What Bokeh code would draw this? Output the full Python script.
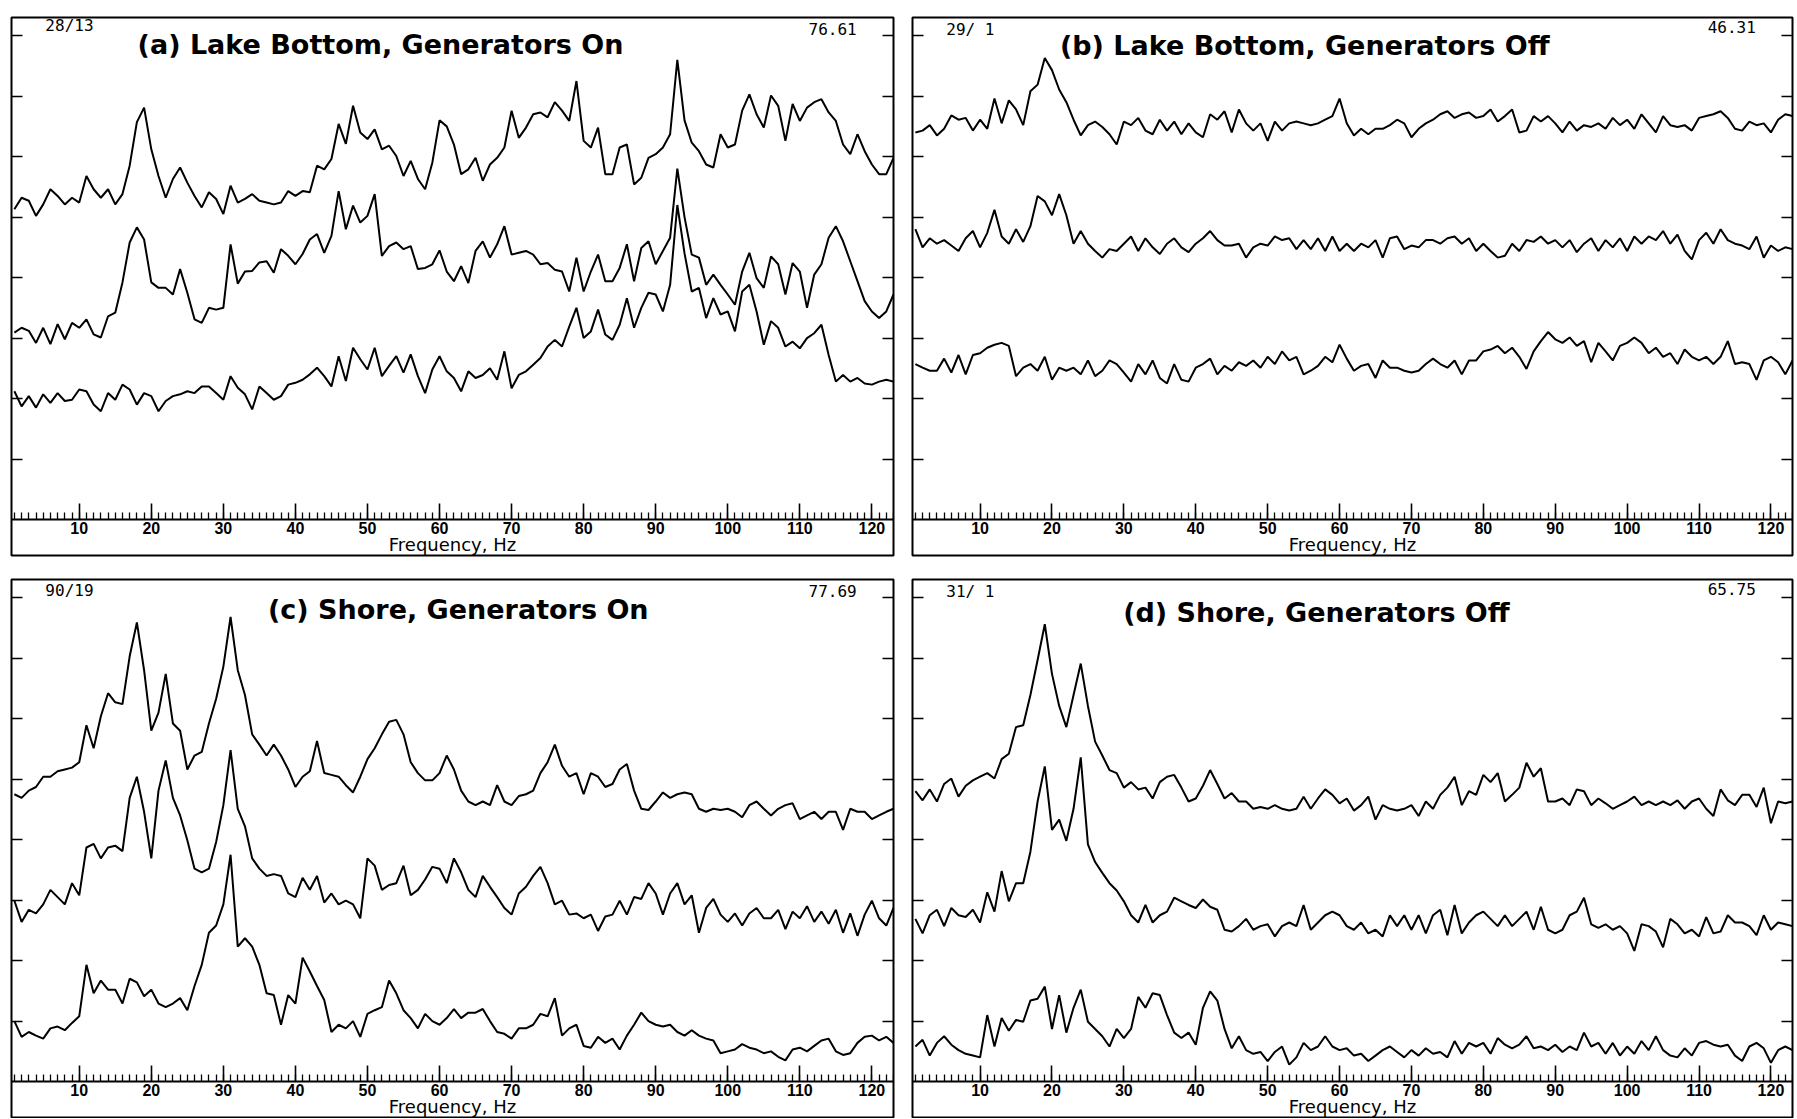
from bokeh.plotting import figure
from bokeh.models import Range1d, LinearAxis, FixedTicker, Label
from bokeh.layouts import row, column
from bokeh.embed import file_html
from bokeh.resources import INLINE

# ---------------- data (frequency in Hz, level in dB) -------------
freq = list(range(1, 124))
x_major = [10, 20, 30, 40, 50, 60, 70, 80, 90, 100, 110, 120]
x_minor = list(range(1, 124))
y_major = [10, 20, 30, 40, 50, 60, 70, 80]

titles = ["(a) Lake Bottom, Generators On", "(b) Lake Bottom, Generators Off",
          "(c) Shore, Generators On", "(d) Shore, Generators Off"]
left_notes = ["28/13", "29/ 1", "90/19", "31/ 1"]
right_notes = ["76.61", "46.31", "77.69", "65.75"]

lake_on_1 = [51.3, 53.2, 52.7, 50.2, 52.1, 54.6, 53.5, 52.1, 53.2, 52.4,
             56.8, 54.6, 53.2, 54.6, 52.1, 53.8, 58.5, 65.7, 68.1, 61.2,
             56.8, 53.2, 56.3, 58.2, 55.7, 53.5, 51.6, 54.1, 53.0, 50.5,
             55.2, 52.4, 53.0, 53.8, 52.7, 52.4, 52.1, 52.4, 54.3, 53.5,
             54.3, 54.1, 58.5, 57.9, 59.6, 65.4, 62.1, 68.4, 64.0, 62.9,
             64.5, 61.2, 61.8, 60.1, 56.8, 59.3, 56.3, 54.6, 59.0, 66.0,
             65.0, 62.0, 57.1, 57.9, 59.8, 56.0, 58.7, 59.8, 61.5, 67.6,
             63.1, 64.8, 67.0, 67.3, 66.5, 69.0, 67.6, 65.9, 72.5, 62.6,
             61.5, 64.8, 57.1, 57.1, 61.5, 62.0, 55.4, 56.5, 59.8, 60.4,
             61.5, 63.7, 76.0, 66.0, 62.3, 60.9, 58.7, 58.2, 63.7, 61.5,
             62.0, 67.6, 70.3, 67.0, 64.8, 70.1, 68.4, 62.6, 68.7, 65.9,
             68.1, 69.0, 69.5, 67.3, 65.9, 62.0, 60.4, 63.7, 60.9, 58.7,
             57.1, 57.1, 59.8]
lake_on_2 = [30.9, 31.7, 31.2, 29.2, 31.7, 29.0, 32.3, 29.8, 32.5, 31.7,
             33.1, 30.6, 30.1, 33.6, 34.2, 39.2, 45.8, 48.3, 46.3, 39.2,
             38.3, 38.3, 37.2, 41.4, 37.5, 33.1, 32.5, 35.0, 34.7, 35.0,
             45.5, 39.0, 41.0, 41.1, 42.5, 42.7, 40.8, 44.7, 43.6, 42.2,
             43.9, 46.3, 47.2, 44.1, 46.9, 54.3, 48.0, 51.9, 49.1, 50.2,
             53.8, 43.6, 45.2, 45.8, 44.7, 45.2, 41.4, 41.6, 42.2, 44.5,
             41.0, 39.4, 41.9, 39.1, 44.4, 46.0, 43.3, 45.5, 48.5, 43.8,
             44.1, 44.4, 43.8, 42.2, 42.4, 41.3, 41.0, 37.7, 43.3, 37.7,
             41.0, 43.8, 39.4, 39.4, 41.6, 45.5, 39.4, 44.9, 46.0, 42.2,
             44.4, 46.6, 58.0, 50.0, 43.8, 43.3, 38.8, 40.5, 38.8, 37.2,
             35.5, 41.0, 44.1, 39.9, 38.3, 43.5, 42.2, 37.2, 42.4, 41.0,
             35.0, 40.5, 42.2, 46.6, 48.5, 46.0, 42.7, 39.4, 36.1, 34.4,
             33.3, 34.4, 37.2]
lake_on_3 = [21.2, 18.7, 20.4, 18.5, 20.7, 19.3, 20.9, 19.6, 19.8, 21.5,
             21.2, 19.0, 17.9, 20.9, 19.8, 22.3, 21.5, 19.0, 20.9, 20.4,
             17.9, 19.6, 20.4, 20.7, 21.2, 20.9, 22.0, 22.0, 20.9, 19.8,
             23.7, 21.8, 20.7, 18.2, 22.0, 20.9, 19.8, 20.4, 22.3, 22.6,
             23.1, 24.0, 25.1, 23.7, 22.0, 27.0, 22.9, 28.4, 26.5, 24.8,
             28.4, 23.7, 25.4, 27.0, 24.3, 27.3, 23.7, 20.9, 24.8, 27.0,
             24.5, 23.4, 21.2, 24.5, 23.4, 23.9, 25.0, 23.1, 27.8, 21.7,
             23.9, 24.5, 25.6, 26.7, 28.6, 29.7, 28.6, 31.9, 35.0, 30.0,
             31.1, 34.7, 30.6, 29.7, 32.2, 36.6, 31.7, 35.0, 37.5, 37.2,
             34.4, 38.8, 52.0, 44.0, 37.7, 38.3, 33.3, 36.6, 33.9, 34.4,
             31.1, 37.7, 38.8, 34.4, 28.9, 32.8, 31.7, 28.6, 29.4, 28.3,
             30.0, 30.8, 32.2, 27.2, 22.8, 23.9, 22.8, 23.4, 22.5, 22.3,
             22.8, 23.1, 22.8]

lake_off_1 = [64.0, 64.3, 65.2, 63.5, 64.6, 66.8, 66.1, 66.4, 64.3, 66.1,
              64.6, 69.6, 65.5, 69.3, 67.8, 65.2, 70.8, 71.9, 76.3, 74.3,
              71.1, 69.0, 66.1, 63.5, 65.2, 65.8, 64.9, 63.7, 62.0, 65.8,
              65.2, 66.4, 64.3, 63.7, 66.1, 64.3, 65.8, 63.7, 65.5, 64.0,
              63.2, 67.0, 66.1, 67.5, 64.0, 67.8, 65.5, 64.3, 65.5, 62.6,
              65.8, 64.3, 65.5, 65.8, 65.5, 65.2, 65.5, 66.1, 66.7, 69.6,
              65.5, 63.5, 64.6, 63.7, 64.6, 64.6, 65.2, 66.1, 65.5, 63.2,
              64.6, 65.5, 66.1, 67.0, 67.5, 66.4, 67.0, 67.3, 66.4, 66.7,
              67.8, 65.8, 66.7, 67.8, 64.0, 64.3, 66.7, 65.8, 66.7, 65.5,
              64.0, 65.8, 64.3, 65.2, 64.9, 65.5, 64.6, 66.4, 65.2, 66.1,
              64.6, 67.0, 65.5, 64.0, 66.7, 65.2, 64.9, 65.2, 64.3, 66.4,
              66.7, 67.0, 67.5, 66.4, 64.6, 64.3, 65.8, 65.2, 65.5, 64.0,
              66.1, 67.0, 66.7]
lake_off_2 = [48.0, 45.0, 46.5, 45.6, 46.2, 45.3, 44.4, 46.5, 47.7, 45.0,
              47.4, 51.2, 46.8, 45.6, 48.0, 45.9, 48.5, 53.5, 52.6, 50.3,
              53.8, 50.3, 45.6, 47.7, 45.6, 44.4, 43.3, 44.7, 44.4, 45.6,
              46.8, 44.4, 46.5, 45.0, 43.9, 45.6, 46.5, 45.0, 44.2, 45.6,
              46.5, 47.7, 46.2, 45.3, 45.3, 45.6, 43.3, 45.0, 45.6, 45.3,
              46.8, 46.2, 46.5, 44.7, 46.2, 44.7, 46.5, 44.4, 46.8, 44.4,
              45.6, 44.4, 45.6, 45.0, 46.2, 43.3, 46.5, 46.8, 44.7, 45.3,
              45.0, 46.2, 46.2, 45.6, 46.5, 46.8, 45.6, 46.5, 44.4, 45.6,
              44.4, 43.3, 43.6, 45.6, 44.4, 46.2, 45.9, 46.8, 45.6, 46.2,
              45.0, 46.2, 44.2, 45.6, 46.5, 44.4, 46.2, 45.0, 46.5, 44.4,
              46.8, 45.6, 46.8, 46.2, 47.7, 45.6, 47.1, 44.4, 43.0, 46.2,
              47.4, 45.6, 48.0, 46.2, 45.6, 45.3, 44.7, 46.8, 43.3, 45.3,
              44.4, 45.0, 44.7]
lake_off_3 = [25.7, 25.1, 24.6, 24.6, 26.6, 24.3, 27.2, 24.0, 27.2, 27.5,
              28.4, 28.9, 29.2, 28.7, 23.7, 25.1, 25.7, 24.6, 26.9, 23.1,
              25.1, 24.6, 25.1, 24.0, 26.3, 23.7, 24.6, 26.3, 25.7, 24.3,
              22.8, 25.7, 24.0, 26.3, 23.4, 22.5, 25.7, 23.1, 22.8, 25.1,
              25.7, 26.6, 24.0, 25.4, 24.6, 26.0, 25.4, 26.3, 25.1, 26.9,
              25.7, 27.8, 26.3, 26.9, 24.0, 24.6, 25.4, 26.9, 26.0, 28.9,
              26.6, 24.6, 25.4, 25.7, 23.4, 26.3, 25.1, 25.1, 24.6, 24.3,
              24.6, 25.7, 26.6, 25.7, 25.1, 26.3, 24.0, 26.3, 26.3, 27.8,
              28.1, 28.7, 27.5, 28.4, 26.9, 24.9, 27.8, 29.5, 31.0, 29.8,
              29.2, 30.1, 28.7, 29.5, 26.0, 29.2, 27.8, 26.3, 28.7, 29.2,
              30.1, 29.2, 27.5, 28.4, 26.9, 27.5, 25.7, 28.1, 26.9, 26.3,
              26.9, 25.7, 26.9, 29.5, 25.7, 26.0, 25.7, 23.1, 26.3, 26.9,
              26.0, 24.0, 26.3]

shore_on_1 = [47.5, 46.9, 48.1, 48.7, 50.4, 50.4, 51.3, 51.6, 51.9, 52.8,
              58.9, 55.1, 60.4, 64.2, 62.7, 62.4, 70.3, 75.9, 68.0, 58.0,
              61.0, 67.4, 59.2, 58.0, 51.6, 53.9, 54.5, 59.2, 63.3, 68.6,
              76.8, 68.0, 63.9, 57.4, 55.7, 53.9, 55.7, 53.9, 51.6, 48.7,
              50.4, 51.3, 56.3, 51.0, 50.7, 50.4, 49.0, 47.8, 50.4, 53.3,
              55.1, 57.4, 59.5, 59.8, 57.4, 52.8, 51.0, 49.8, 49.8, 51.0,
              53.9, 51.6, 48.1, 46.3, 45.7, 46.3, 45.7, 49.0, 46.3, 45.7,
              47.2, 47.5, 48.1, 51.0, 52.8, 55.7, 52.2, 50.4, 51.0, 47.5,
              51.0, 50.4, 48.7, 49.2, 51.6, 52.5, 48.1, 45.1, 44.9, 46.3,
              47.8, 46.9, 47.5, 47.8, 47.5, 45.1, 44.6, 45.1, 44.9, 45.1,
              44.6, 43.7, 45.7, 46.3, 45.1, 44.0, 45.1, 45.7, 46.0, 43.4,
              44.0, 44.6, 43.4, 44.6, 44.6, 41.6, 45.1, 44.6, 44.6, 43.4,
              44.0, 44.6, 45.1]
shore_on_2 = [29.9, 26.4, 28.4, 27.8, 29.3, 31.7, 30.5, 29.3, 32.8, 30.8,
              38.7, 39.3, 36.9, 38.7, 39.0, 38.1, 46.9, 50.4, 44.6, 36.9,
              48.1, 53.1, 46.9, 44.0, 39.9, 35.2, 34.6, 35.2, 39.6, 45.7,
              54.8, 45.1, 42.2, 36.9, 35.2, 34.0, 34.3, 34.0, 31.1, 30.5,
              33.7, 31.7, 34.0, 29.6, 31.1, 29.3, 29.9, 29.3, 27.0, 36.9,
              35.7, 31.7, 32.5, 32.8, 35.7, 30.8, 31.7, 33.4, 35.5, 35.2,
              32.8, 36.9, 34.6, 31.7, 30.5, 34.0, 32.2, 30.5, 28.7, 27.6,
              31.1, 32.2, 34.0, 35.5, 32.8, 29.3, 29.9, 27.6, 27.8, 27.0,
              27.6, 24.9, 27.3, 27.6, 29.9, 27.6, 30.5, 30.2, 32.8, 31.1,
              27.6, 31.1, 32.8, 29.3, 30.8, 24.6, 28.7, 30.2, 27.6, 26.4,
              27.8, 25.8, 27.8, 28.7, 27.0, 27.0, 28.4, 25.2, 28.1, 27.0,
              29.0, 26.4, 28.1, 26.1, 28.4, 24.6, 27.8, 24.1, 27.6, 29.9,
              27.0, 25.8, 28.7]
shore_on_3 = [10.0, 7.4, 8.2, 7.6, 7.1, 8.8, 9.1, 8.5, 9.7, 10.8,
              19.3, 14.6, 16.7, 15.2, 15.2, 12.9, 17.0, 16.4, 14.1, 15.2,
              12.9, 12.3, 12.9, 13.8, 11.8, 15.8, 19.3, 24.6, 25.8, 29.3,
              37.5, 22.3, 23.7, 22.3, 19.3, 14.6, 14.3, 9.4, 14.3, 12.9,
              20.5, 18.2, 15.8, 13.5, 8.2, 9.4, 8.8, 10.0, 7.4, 11.2,
              11.8, 12.3, 16.7, 14.6, 11.8, 10.5, 8.8, 11.2, 10.0, 9.4,
              10.5, 12.0, 10.5, 11.4, 11.4, 12.0, 10.0, 8.2, 7.9, 7.1,
              8.8, 8.8, 9.4, 11.2, 10.8, 13.8, 7.6, 8.8, 9.4, 5.9,
              5.6, 7.4, 6.4, 7.1, 5.3, 7.6, 9.4, 11.4, 10.0, 9.4,
              9.1, 9.4, 8.2, 7.6, 8.5, 7.6, 7.1, 6.8, 4.7, 5.0,
              5.3, 6.2, 5.6, 5.3, 4.7, 5.0, 4.1, 3.5, 5.3, 5.6,
              5.0, 5.9, 6.8, 7.1, 5.0, 4.4, 4.7, 6.4, 7.4, 7.6,
              6.8, 7.4, 6.4]

shore_off_1 = [48.0, 46.5, 48.3, 46.3, 49.2, 50.1, 47.1, 48.9, 49.8, 50.4,
               51.0, 50.1, 53.3, 54.2, 58.6, 58.9, 63.9, 69.7, 75.6, 67.4,
               62.1, 58.6, 63.9, 69.1, 62.1, 56.2, 53.9, 51.5, 51.0, 48.6,
               49.5, 48.3, 48.6, 46.8, 49.5, 50.4, 50.7, 48.6, 46.3, 46.8,
               48.9, 51.5, 49.2, 46.8, 47.7, 46.3, 46.3, 45.1, 45.4, 45.1,
               45.7, 45.1, 44.8, 45.1, 47.1, 45.1, 46.8, 48.3, 47.4, 46.0,
               46.8, 44.8, 45.7, 47.1, 43.3, 45.7, 45.1, 44.8, 45.1, 45.7,
               43.9, 46.3, 45.1, 47.4, 48.6, 50.4, 45.7, 48.0, 47.4, 50.7,
               49.5, 51.0, 46.3, 47.4, 48.6, 52.7, 50.4, 51.8, 46.3, 46.3,
               46.8, 45.7, 48.3, 48.0, 45.7, 46.8, 46.0, 45.1, 45.7, 46.3,
               47.1, 45.7, 46.3, 45.7, 46.3, 45.7, 46.5, 45.1, 46.3, 46.8,
               45.1, 43.9, 48.3, 46.5, 45.7, 47.4, 47.4, 45.4, 48.6, 42.7,
               46.3, 46.0, 46.3]
shore_off_2 = [26.9, 24.5, 27.5, 28.4, 25.7, 28.7, 27.5, 27.2, 28.4, 26.3,
               31.3, 28.1, 34.8, 29.8, 32.8, 32.8, 38.0, 46.3, 52.1, 41.6,
               43.3, 39.8, 45.1, 53.6, 39.2, 36.3, 34.5, 32.8, 31.6, 29.8,
               27.5, 26.3, 29.2, 26.3, 27.5, 28.1, 30.4, 29.8, 29.2, 28.7,
               30.1, 28.9, 28.4, 25.1, 24.8, 25.7, 26.9, 25.1, 25.7, 26.0,
               24.0, 25.7, 26.3, 25.7, 29.2, 25.1, 26.3, 27.5, 28.1, 27.5,
               25.7, 25.1, 26.3, 24.5, 25.1, 24.0, 27.5, 25.7, 27.5, 25.1,
               27.5, 24.5, 27.5, 28.4, 24.2, 29.2, 24.5, 26.3, 27.5, 28.1,
               26.9, 25.7, 27.5, 25.7, 26.9, 28.1, 25.1, 28.9, 25.1, 24.5,
               25.1, 27.5, 28.1, 30.4, 26.0, 25.4, 26.0, 25.1, 25.7, 24.5,
               21.6, 26.0, 25.7, 24.8, 22.2, 26.9, 26.0, 24.5, 25.1, 24.0,
               27.2, 24.5, 24.8, 27.5, 26.3, 26.3, 25.7, 24.2, 27.5, 25.1,
               26.3, 26.0, 25.7]
shore_off_3 = [5.8, 6.9, 4.3, 6.4, 7.5, 6.1, 5.2, 4.6, 4.3, 4.0,
               11.0, 5.8, 10.5, 8.4, 10.2, 9.9, 13.4, 13.7, 15.7, 8.7,
               14.3, 8.1, 12.2, 15.2, 9.9, 8.7, 7.5, 5.8, 8.7, 7.2,
               8.7, 14.0, 12.2, 14.6, 14.3, 11.0, 8.1, 7.2, 8.1, 6.1,
               12.2, 14.9, 13.4, 8.7, 5.5, 7.5, 5.2, 4.6, 4.9, 3.4,
               4.9, 5.8, 2.8, 4.0, 6.4, 5.2, 5.8, 7.5, 5.8, 5.2,
               5.5, 4.3, 4.6, 3.4, 4.3, 5.2, 5.8, 4.9, 4.0, 5.2,
               4.3, 5.5, 4.6, 4.9, 4.0, 6.7, 4.6, 6.4, 5.8, 6.4,
               4.6, 7.2, 6.1, 5.5, 6.1, 7.5, 5.5, 5.8, 5.2, 6.1,
               4.9, 5.8, 5.2, 8.1, 5.8, 6.4, 4.6, 6.4, 4.3, 5.8,
               4.6, 6.7, 5.2, 7.5, 5.2, 4.3, 4.0, 5.5, 4.3, 6.4,
               6.7, 6.1, 5.8, 6.1, 4.3, 3.4, 5.8, 6.4, 5.5, 3.1,
               5.2, 5.8, 5.2]

panel_curves = [[lake_on_1, lake_on_2, lake_on_3],
                [lake_off_1, lake_off_2, lake_off_3],
                [shore_on_1, shore_on_2, shore_on_3],
                [shore_off_1, shore_off_2, shore_off_3]]

# ---------------- layout / style ----------------
X0, X1 = 0.6, 123.0
Y1 = 83.0
title_pos = [(18.1, 78.6), (21.1, 78.35), (36.2, 78.05), (29.9, 77.6)]
left_note_y = [81.6, 81.0, 81.1, 81.0]
right_note_y = [81.1, 81.4, 81.1, 81.4]


def make_panel(i, width, height, left, top, bottom, y0):
    p = figure(width=width, height=height, output_backend="svg", toolbar_location=None,
               x_range=Range1d(X0, X1), y_range=Range1d(y0, Y1),
               x_axis_type=None, y_axis_type=None,
               min_border_left=left, min_border_right=2,
               min_border_top=top, min_border_bottom=bottom,
               outline_line_color="black", outline_line_width=2,
               background_fill_color="white", border_fill_color="white")

    xa = LinearAxis(fixed_location=0,
                    ticker=FixedTicker(ticks=x_major, minor_ticks=x_minor),
                    axis_label="Frequency, Hz")
    xa.axis_line_color = "black"
    xa.axis_line_width = 1.8
    xa.major_tick_in = 16
    xa.major_tick_out = 0
    xa.major_tick_line_width = 1.6
    xa.minor_tick_in = 7
    xa.minor_tick_out = 0
    xa.minor_tick_line_width = 1.3
    xa.major_label_standoff = 2
    xa.major_label_text_font = "Liberation Sans"
    xa.major_label_text_font_size = "16px"
    xa.major_label_text_font_style = "bold"
    xa.major_label_text_color = "black"
    xa.axis_label_standoff = -3
    xa.axis_label_text_font = "DejaVu Sans"
    xa.axis_label_text_font_size = "18px"
    xa.axis_label_text_font_style = "normal"
    xa.axis_label_text_color = "black"
    p.add_layout(xa, "below")

    for loc, side in ((X0, "left"), (X1, "right")):
        ya = LinearAxis(fixed_location=loc, ticker=FixedTicker(ticks=y_major))
        ya.axis_line_color = None
        ya.major_tick_in = 11
        ya.major_tick_out = 0
        ya.major_tick_line_width = 1.6
        ya.minor_tick_line_color = None
        ya.major_label_overrides = {t: "" for t in y_major}
        p.add_layout(ya, side)

    for c in panel_curves[i]:
        p.line(freq, c, line_color="black", line_width=2.0)

    tx, ty = title_pos[i]
    p.add_layout(Label(x=tx, y=ty, text=titles[i], text_font="DejaVu Sans",
                       text_font_size="27px", text_font_style="bold",
                       text_color="black", text_baseline="alphabetic"))
    p.add_layout(Label(x=5.3, y=left_note_y[i], text=left_notes[i], text_font="DejaVu Sans Mono",
                       text_font_size="16px", text_color="black",
                       text_baseline="alphabetic"))
    p.add_layout(Label(x=117.9, y=right_note_y[i], text=right_notes[i], text_font="DejaVu Sans Mono",
                       text_font_size="16px", text_color="black", text_align="right",
                       text_baseline="alphabetic"))
    return p


pa = make_panel(0, 895, 557, 11, 17, 2, -5.95)
pb = make_panel(1, 884, 557, 2, 17, 2, -5.95)
pc = make_panel(2, 895, 541, 11, 2, 0, -6.1)
pd = make_panel(3, 884, 541, 2, 2, 0, -6.1)

layout = column(row(pa, pb, spacing=15), row(pc, pd, spacing=15), spacing=20)

open("out.html", "w").write(file_html(layout, INLINE))
